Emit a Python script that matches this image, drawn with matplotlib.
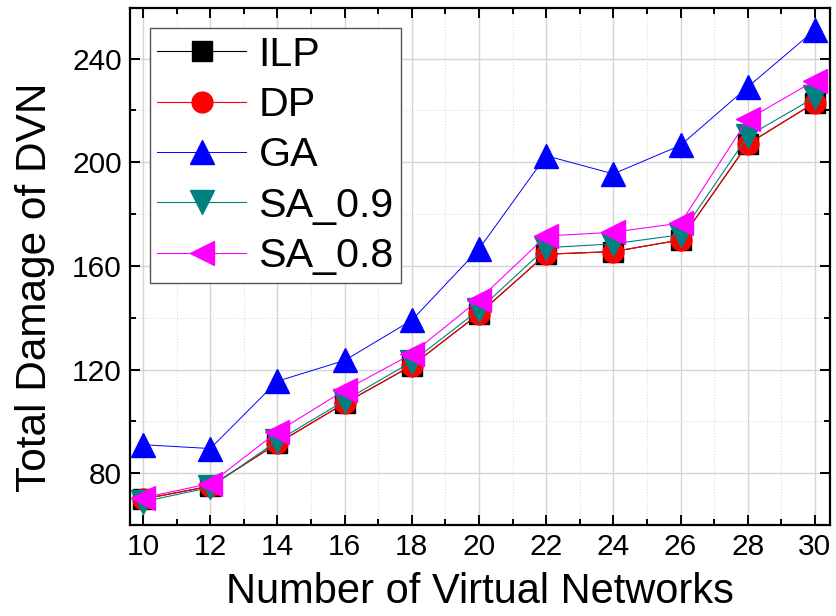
import numpy as np
import matplotlib.pyplot as plt
from matplotlib.ticker import MultipleLocator

plt.rcParams['font.family'] = ['Liberation Sans', 'DejaVu Sans']

# number of virtual networks
vn = [10, 12, 14, 16, 18, 20, 22, 24, 26, 28, 30]

# total damage of DVN for each algorithm
ilp = [70, 75, 91.5, 107, 121.5, 141.5, 164.5, 165.5, 170, 207, 223]
dp = [70, 75, 91.5, 107, 121.5, 141.5, 164.5, 165.5, 170, 207, 223]
ga = [91, 89.5, 115.5, 123.5, 139, 166.5, 202.5, 195.5, 206.5, 229, 251]
sa09 = [69, 74.5, 92.5, 108, 123, 143, 167, 168.5, 172, 210, 225]
sa08 = [70.5, 76, 96, 112, 126, 147, 171.5, 173, 176.5, 216.5, 231.5]

fig = plt.figure(figsize=(8.36, 6.16), dpi=100)
ax = fig.add_axes([0.1555, 0.1477, 0.8373, 0.8393])

ax.plot(vn, ilp, '-s', color='black', lw=0.8, ms=14, label='ILP')
ax.plot(vn, dp, '-o', color='red', lw=0.8, ms=15, label='DP')
ax.plot(vn, ga, '-^', color='blue', lw=0.7, ms=17, label='GA')
ax.plot(vn, sa09, '-v', color='#008080', lw=0.8, ms=17, label='SA_0.9')
ax.plot(vn, sa08, '-<', color='magenta', lw=0.8, ms=17, label='SA_0.8')

ax.set_xlim(9.61, 30.45)
ax.set_ylim(60, 259.5)
ax.xaxis.set_major_locator(MultipleLocator(2))
ax.xaxis.set_minor_locator(MultipleLocator(1))
ax.yaxis.set_major_locator(MultipleLocator(40))
ax.yaxis.set_minor_locator(MultipleLocator(20))

ax.grid(which='major', color='#d4d4d4', lw=1.0, ls='-')
ax.grid(which='minor', color='#dcdcdc', lw=0.8, ls=':')
ax.set_axisbelow(True)

ax.tick_params(which='both', direction='in', top=True, right=True, width=1.4,
               labelsize=21.5, pad=6)
ax.tick_params(which='major', length=7)
ax.tick_params(which='minor', length=4)
for s in ax.spines.values():
    s.set_linewidth(1.6)

ax.set_xlabel('Number of Virtual Networks', fontsize=30, labelpad=8)
ax.set_ylabel('Total Damage of DVN', fontsize=30.5)
ax.yaxis.set_label_coords(-0.107, 0.46)

leg = ax.legend(loc='upper left', bbox_to_anchor=(0.0286, 0.961), fontsize=29.7,
                handlelength=2.15, labelspacing=0.3, handletextpad=0.3,
                borderpad=0.18, fancybox=False, framealpha=1, borderaxespad=0)
leg.get_frame().set_edgecolor('#555555')
leg.get_frame().set_linewidth(1.0)

fig.savefig('out.png', dpi=100)
